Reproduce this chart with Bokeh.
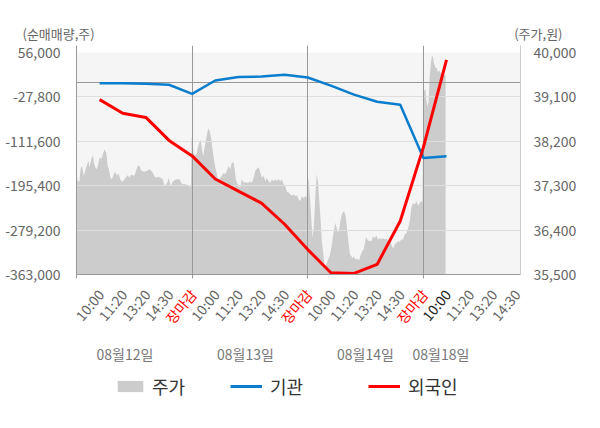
from bokeh.plotting import figure
from bokeh.layouts import column
from bokeh.models import (Range1d, LinearAxis, FixedTicker, NumeralTickFormatter,
                          BoxAnnotation, Legend, LegendItem, ColumnDataSource)
from bokeh.core.properties import value
from bokeh.embed import file_html
from bokeh.resources import INLINE

FONT = "Noto Sans CJK KR"
NAN = float("nan")

# ---------------- data ----------------
time_labels = ["10:00", "11:20", "13:20", "14:30", "장마감",
               "10:00", "11:20", "13:20", "14:30", "장마감",
               "10:00", "11:20", "13:20", "14:30", "장마감",
               "10:00", "11:20", "13:20", "14:30"]
day_labels = ["08월12일", "08월13일", "08월14일", "08월18일"]
net_ticks = [56000, -27800, -111600, -195400, -279200, -363000]
price_ticks = [40000, 39100, 38200, 37300, 36400, 35500]

# 기관 / 외국인 cumulative net buying (shares), one value per time label
inst = [-2000, -2000, -3000, -5000, -22300, 3000, 9500, 10500, 14000, 8600,
        -6600, -23600, -37000, -42600, -143000, -140000]
foreign = [-33100, -58700, -66700, -110000, -139300, -182900, -205600, -228400,
           -268200, -316000, -359600, -361000, -344000, -262000, -123200, 42000]

# 주가 (won): (time index, price)
stock_points = [
    (0.00, 37530), (0.06, 37390), (0.13, 37390), (0.17, 37630), (0.23, 37700),
    (0.32, 37500), (0.39, 37630), (0.46, 37730), (0.52, 37800), (0.56, 37670),
    (0.64, 37840), (0.71, 37920), (0.75, 37770), (0.81, 37670), (0.87, 37630),
    (0.92, 37700), (1.00, 37870), (1.07, 37840), (1.14, 37940), (1.21, 38030),
    (1.29, 37960), (1.35, 37700), (1.40, 37630), (1.47, 37460), (1.53, 37430),
    (1.61, 37530), (1.67, 37580), (1.76, 37500), (1.82, 37550), (1.89, 37430),
    (1.96, 37380), (2.05, 37410), (2.15, 37480), (2.22, 37510), (2.29, 37460),
    (2.37, 37530), (2.44, 37500), (2.51, 37510), (2.58, 37600), (2.65, 37710),
    (2.73, 37700), (2.80, 37600), (2.94, 37580), (3.06, 37600), (3.16, 37630),
    (3.23, 37600), (3.30, 37560), (3.38, 37480), (3.45, 37460), (3.52, 37480),
    (3.63, 37460), (3.73, 37430), (3.81, 37290), (3.88, 37330), (3.95, 37390),
    (3.99, 37460), (4.07, 37290), (4.17, 37390), (4.31, 37430), (4.46, 37430),
    (4.53, 37360), (4.60, 37330), (4.75, 37330), (4.85, 37280), (4.95, 37280),
    (4.98, 38280), (5.02, 38170), (5.06, 37970), (5.14, 37900), (5.21, 37970),
    (5.25, 38070), (5.31, 38170), (5.37, 38230), (5.42, 38040), (5.48, 37900),
    (5.54, 38070), (5.60, 38240), (5.66, 38380), (5.71, 38460), (5.77, 38380),
    (5.83, 38240), (5.88, 38040), (5.94, 37840), (6.00, 37670), (6.06, 37560),
    (6.11, 37430), (6.17, 37430), (6.23, 37460), (6.29, 37500), (6.36, 37560),
    (6.43, 37530), (6.50, 37600), (6.58, 37700), (6.65, 37630), (6.72, 37770),
    (6.79, 37770), (6.84, 37630), (6.89, 37430), (6.94, 37360), (7.01, 37290),
    (7.08, 37260), (7.15, 37430), (7.23, 37360), (7.30, 37370), (7.37, 37360),
    (7.44, 37360), (7.52, 37390), (7.59, 37360), (7.66, 37460), (7.73, 37600),
    (7.80, 37640), (7.88, 37670), (7.95, 37560), (8.02, 37460), (8.09, 37500),
    (8.17, 37390), (8.23, 37460), (8.31, 37390), (8.38, 37360), (8.45, 37430),
    (8.52, 37390), (8.60, 37430), (8.67, 37390), (8.74, 37440), (8.81, 37390),
    (8.88, 37430), (8.96, 37330), (9.03, 37290), (9.10, 37170), (9.17, 37160),
    (9.25, 37120), (9.32, 37100), (9.39, 37120), (9.46, 37090), (9.53, 37100),
    (9.61, 37020), (9.68, 36990), (9.75, 37090), (9.82, 37050), (9.90, 37090),
    (9.95, 37050),
    (9.99, 37560), (10.04, 37390), (10.09, 37120), (10.16, 36580), (10.21, 36240),
    (10.27, 36510), (10.33, 37120), (10.39, 37530), (10.44, 37390), (10.50, 36990),
    (10.56, 36580), (10.61, 36170), (10.68, 35900), (10.73, 35630), (10.79, 35700),
    (10.85, 35770), (10.90, 35830), (10.96, 35900), (11.02, 36040), (11.08, 36240),
    (11.13, 36380), (11.19, 36550), (11.25, 36440), (11.31, 36340), (11.37, 36440),
    (11.42, 36610), (11.48, 36720), (11.54, 36780), (11.60, 36750), (11.65, 36650),
    (11.71, 36380), (11.77, 36110), (11.83, 35900), (11.89, 35870), (11.94, 35830),
    (12.00, 35870), (12.06, 35800), (12.12, 35830), (12.17, 35800), (12.23, 35800),
    (12.29, 35900), (12.35, 35970), (12.41, 36000), (12.46, 36110), (12.52, 36270),
    (12.58, 36210), (12.64, 36170), (12.69, 36190), (12.75, 36170), (12.82, 36270),
    (12.89, 36240), (12.97, 36290), (13.04, 36210), (13.11, 36240), (13.18, 36210),
    (13.25, 36240), (13.33, 36210), (13.40, 36230), (13.47, 36170), (13.54, 36170),
    (13.62, 36110), (13.69, 36020), (13.76, 36110), (13.83, 36140), (13.90, 36170),
    (13.98, 36170), (14.05, 36210), (14.12, 36210), (14.19, 36310), (14.27, 36340),
    (14.34, 36440), (14.41, 36580), (14.48, 36850), (14.55, 36950), (14.63, 36920),
    (14.70, 36990), (14.77, 36890), (14.84, 36950), (14.92, 36990), (14.96, 36950),
    (15.00, 39190), (15.03, 39230), (15.09, 39230), (15.13, 39020), (15.18, 38900),
    (15.23, 39020), (15.27, 39500), (15.32, 39770), (15.37, 39940), (15.42, 39900),
    (15.46, 39770), (15.52, 39700), (15.58, 39670), (15.63, 39600), (15.69, 39630),
    (15.75, 39570), (15.81, 39600), (15.86, 39570), (15.92, 39530), (15.96, 39530),
]
stock_t = [t for t, _ in stock_points]
stock_price = [v for _, v in stock_points]

# ---------------- layout constants (page pixels) ----------------
W, H = 600, 428
XMAX = 19.2
Y_LO, Y_HI = -363000, 69000
P_LO, P_HI = 35500, 40138
FR_L, FR_R, FR_T, FR_B = 76, 520, 45, 274   # main frame edges on the page
TOP_H = 42                                   # height of the title strip
MAIN_BOTTOM = 285                            # page y where the main figure ends
BOT_H = H - MAIN_BOTTOM


def ux(px):
    """page x pixel -> time-index units of the main x axis"""
    return (px - FR_L) / (FR_R - FR_L) * XMAX


def no_align(f):
    try:
        f.frame_align = False
    except Exception:
        pass
    return f


def plain(height, xr, yr):
    f = figure(width=W, height=height, output_backend="svg", toolbar_location=None,
               title_location=None, x_axis_type=None, y_axis_type=None,
               x_range=xr, y_range=yr, min_border=0,
               outline_line_color=None, background_fill_color="white",
               border_fill_color="white")
    return no_align(f)


# ---------------- title strip ----------------
top = plain(TOP_H, Range1d(0, W), Range1d(0, TOP_H))
top.text(x=[22], y=[TOP_H - 32.5], text=["(순매매량,주)"], text_align="left",
         text_baseline="middle", text_font=value(FONT), text_font_size="13px",
         text_color="#666666")
top.text(x=[562], y=[TOP_H - 32.5], text=["(주가,원)"], text_align="right",
         text_baseline="middle", text_font=value(FONT), text_font_size="13px",
         text_color="#666666")

# ---------------- main chart ----------------
main_h = MAIN_BOTTOM - TOP_H
p = figure(width=W, height=main_h, output_backend="svg", toolbar_location=None,
           title_location=None, x_axis_type=None, y_axis_type=None,
           x_range=Range1d(0, XMAX), y_range=Range1d(Y_LO, Y_HI),
           min_border_left=FR_L, min_border_right=W - FR_R,
           min_border_top=FR_T - TOP_H, min_border_bottom=MAIN_BOTTOM - FR_B,
           background_fill_color="white", border_fill_color="white",
           outline_line_color=None)
no_align(p)
p.extra_y_ranges = {"price": Range1d(P_LO, P_HI)}

p.add_layout(BoxAnnotation(top=max(net_ticks), fill_color="#f5f5f5", fill_alpha=1,
                           line_color=None, level="image"))

left = LinearAxis(ticker=FixedTicker(ticks=net_ticks, minor_ticks=[]),
                  formatter=NumeralTickFormatter(format="0,0"),
                  axis_line_color="#999999", major_tick_line_color=None,
                  minor_tick_line_color=None, major_label_text_font=FONT,
                  major_label_text_font_size="14px", major_label_text_color="#666666",
                  major_label_standoff=10)
p.add_layout(left, "left")
right = LinearAxis(y_range_name="price",
                   ticker=FixedTicker(ticks=price_ticks, minor_ticks=[]),
                   formatter=NumeralTickFormatter(format="0,0"),
                   axis_line_color="#cccccc", major_tick_line_color=None,
                   minor_tick_line_color=None, major_label_text_font=FONT,
                   major_label_text_font_size="14px", major_label_text_color="#666666",
                   major_label_standoff=7)
p.add_layout(right, "right")
close_pos = [i + 1 for i, lab in enumerate(time_labels) if lab == "장마감"]
bottom_axis = LinearAxis(ticker=FixedTicker(ticks=[0] + close_pos, minor_ticks=[]),
                         major_label_overrides={v: "" for v in [0] + close_pos},
                         axis_line_color="#999999", major_tick_line_color="#999999",
                         major_tick_in=0, major_tick_out=4, minor_tick_line_color=None,
                         major_label_text_font_size="1px", major_label_standoff=0)
p.add_layout(bottom_axis, "below")

p.varea(x=stock_t, y1=min(price_ticks), y2=stock_price,
        fill_color="#cccccc", y_range_name="price")
p.hspan(y=net_ticks[1:-1], line_color="#dedede", line_width=1)
p.hspan(y=[0], line_color="#999999", line_width=1)
p.vspan(x=close_pos, line_color="#999999", line_width=1)

xs = list(range(1, len(inst) + 1))
p.line(x=xs, y=inst, line_color="#0a7dcc", line_width=2.5)
p.line(x=xs, y=foreign, line_color="#ff0000", line_width=3)

# ---------------- bottom strip: time labels, day labels, legend ----------------
bot = plain(BOT_H, Range1d(ux(0), ux(W)), Range1d(0, BOT_H))


def by(py):
    return H - py


colors = []
for i, lab in enumerate(time_labels):
    if lab == "장마감":
        colors.append("#ff0000")
    elif i + 1 == len(inst):
        colors.append("#222222")
    else:
        colors.append("#666666")
tl_src = ColumnDataSource(dict(x=list(range(1, len(time_labels) + 1)),
                               y=[by(291)] * len(time_labels),
                               text=time_labels, color=colors))
bot.text(x="x", y="y", text="text", source=tl_src, text_color="color",
         angle=50, angle_units="deg", text_align="right", text_baseline="middle",
         x_offset=1, text_font=value(FONT), text_font_size="14px")

day_x = [ux(124.5), ux(245), ux(365), ux(440.5)]
bot.text(x=day_x, y=[by(353)] * len(day_labels), text=day_labels,
         text_align="center", text_baseline="middle", text_font=value(FONT),
         text_font_size="14px", text_color="#777777")

# legend swatch proxies (no visible marks)
sw_area = bot.varea(x=[NAN], y1=[NAN], y2=[NAN], fill_color="#cccccc")
sw_inst = bot.line(x=[NAN], y=[NAN], line_color="#0a7dcc", line_width=3)
sw_for = bot.line(x=[NAN], y=[NAN], line_color="#ff0000", line_width=3)
for rend, lab, gx, so in [(sw_area, "주가", 114, 6), (sw_inst, "기관", 230, 8),
                          (sw_for, "외국인", 368, 8)]:
    lg = Legend(items=[LegendItem(label=lab, renderers=[rend])],
                location=(gx, H - 399), orientation="horizontal",
                glyph_width=32, glyph_height=14, label_standoff=so,
                label_text_font=FONT, label_text_font_size="18px",
                label_text_color="#333333", border_line_color=None,
                background_fill_alpha=0, padding=0, margin=0, spacing=0)
    bot.add_layout(lg)

layout = column(top, p, bot, spacing=0)
open("out.html", "w").write(file_html(layout, INLINE))
